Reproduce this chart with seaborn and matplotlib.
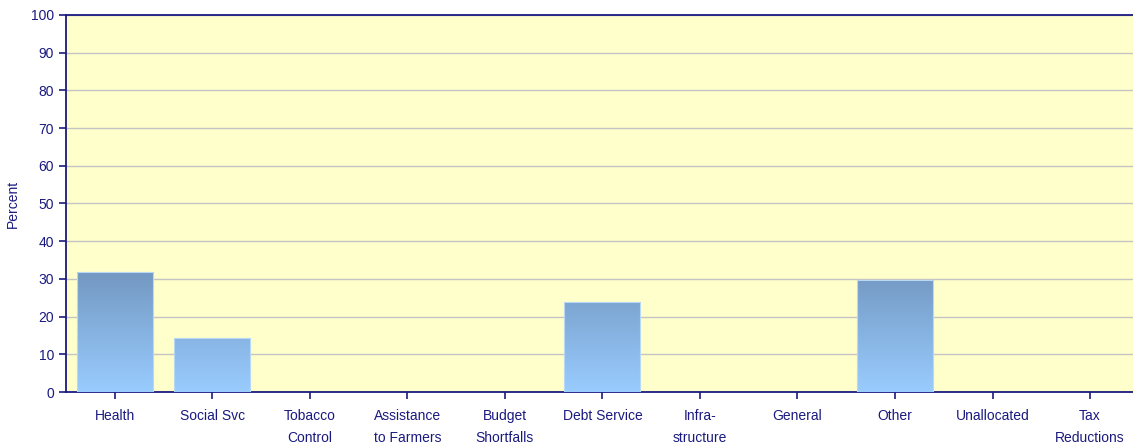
import numpy as np
import pandas as pd
import seaborn as sns
import matplotlib.pyplot as plt
from matplotlib.colors import LinearSegmentedColormap

# data
categories = ['Health', 'Social Svc', 'Tobacco\nControl', 'Assistance\nto Farmers',
              'Budget\nShortfalls', 'Debt Service', 'Infra-\nstructure', 'General',
              'Other', 'Unallocated', 'Tax\nReductions']
percent = [31.8, 14.2, 0, 0, 0, 24.0, 0, 0, 29.7, 0, 0]
yticks = [0, 10, 20, 30, 40, 50, 60, 70, 80, 90, 100]

navy = '#1a1a80'
df = pd.DataFrame({'category': categories, 'percent': percent})

sns.set_style('white')
plt.rcParams['font.family'] = ['Liberation Sans', 'DejaVu Sans']

fig = plt.figure(figsize=(11.33, 4.44), dpi=100)
ax = fig.add_axes([66/1133, 52/444, 1 - 66/1133, 377/444])
ax.set_facecolor('#ffffcc')

sns.barplot(data=df, x='category', y='percent', width=0.78, color='#88b4e4',
            edgecolor='#b8d8f4', linewidth=0.8, ax=ax, zorder=3)

# vertical gradient shared by all bars (same shade at same height)
cmap = LinearSegmentedColormap.from_list('bar', ['#99ccff', '#7398c2'])
grad = np.linspace(0, 1, 256).reshape(-1, 1)
top = max(percent)
for p in ax.patches:
    h = p.get_height()
    if h <= 0:
        p.set_visible(False)
        continue
    x0 = p.get_x()
    w = p.get_width()
    im = ax.imshow(grad, cmap=cmap, aspect='auto', origin='lower',
                   extent=[x0, x0 + w, 0, top], zorder=3)
    im.set_clip_path(p)
    p.set_facecolor('none')
    p.set_zorder(4)

ax.set_xlim(-0.5, 10.44)
ax.set_ylim(0, 100)
ax.set_yticks(yticks)
ax.yaxis.grid(True, color='#c4c4c4', linewidth=1.0, zorder=0)
ax.set_axisbelow(True)

for s in ['left', 'bottom', 'top']:
    ax.spines[s].set_color(navy)
    ax.spines[s].set_linewidth(1.3)
ax.spines['right'].set_visible(False)

ax.tick_params(axis='both', colors=navy, labelcolor=navy, direction='out',
               length=5, width=1.2, labelsize=10, left=True, bottom=True)
ax.tick_params(axis='x', pad=7)
ax.set_xlabel('')
ax.set_ylabel('Percent', color=navy, fontsize=10, labelpad=8)
ax.set_xticks(range(len(categories)))
ax.set_xticklabels(categories, color=navy, fontsize=10, linespacing=1.75)

fig.savefig('out.png', dpi=100)
